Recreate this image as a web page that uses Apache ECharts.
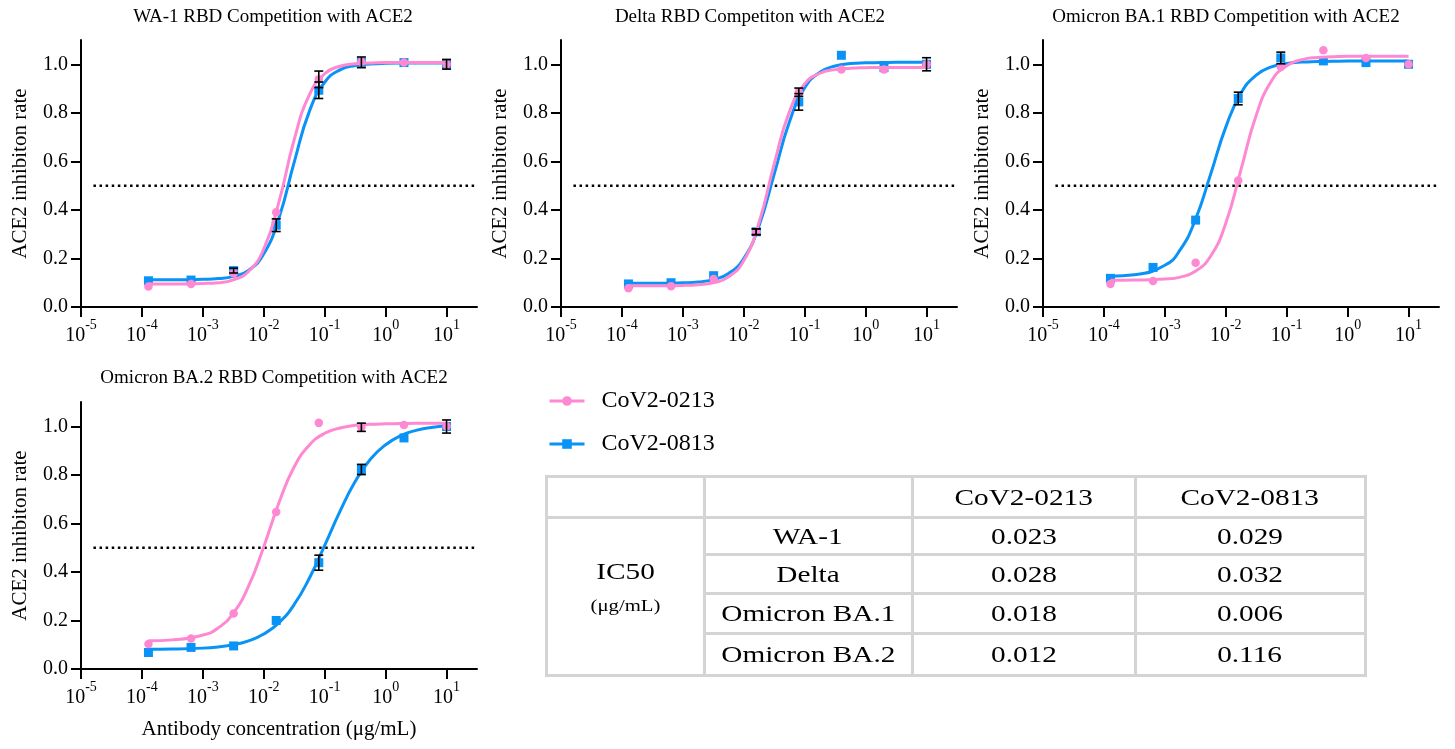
<!DOCTYPE html>
<html><head><meta charset="utf-8">
<script src="https://cdn.jsdelivr.net/npm/echarts@6/dist/echarts.min.js"></script>
<style>
html,body{margin:0;padding:0;background:#fff;}
#chart{position:absolute;left:0;top:0;width:1455px;height:749px;}
#ic50{position:absolute;left:544.5px;top:474.5px;border-collapse:collapse;table-layout:fixed;width:822px;font-family:'Liberation Serif','Times New Roman',serif;color:#000;}
#ic50 td{border:3px solid #d4d4d4;text-align:center;vertical-align:middle;padding:0;font-size:24px;line-height:24px;overflow:visible;white-space:nowrap;}
.sx{display:inline-block;transform:scaleX(1.22);transform-origin:center;}
.big{display:block;line-height:24px;margin-top:-18px;}
.small{display:block;font-size:17px;line-height:20px;margin-top:13px;}
</style></head>
<body><div id="chart"></div><table id="ic50"></table>
<script>
// ---------- data ----------
const titles = ['WA-1 RBD Competition with ACE2', 'Delta RBD Competiton with ACE2', 'Omicron BA.1 RBD Competition with ACE2', 'Omicron BA.2 RBD Competition with ACE2'];
const seriesNames = ['CoV2-0213', 'CoV2-0813'];
const yAxisName = 'ACE2 inhibiton rate';
const xAxisName = 'Antibody concentration (μg/mL)';
const xTicks = [1e-5, 1e-4, 1e-3, 1e-2, 1e-1, 1, 10];
const yTicks = [0, 0.2, 0.4, 0.6, 0.8, 1.0];

// measured concentrations (μg/mL)
const conc = [0.000128, 0.00064, 0.0032, 0.016, 0.08, 0.4, 2, 10];

const wa1_0213 = [0.084, 0.095, 0.139, 0.390, 0.938, 1.010, 1.007, 1.000];
const wa1_0213_err = [0, 0, 0, 0, 0.034, 0, 0, 0];
const wa1_0813 = [0.108, 0.111, 0.150, 0.337, 0.893, 1.008, 1.007, 1.000];
const wa1_0813_err = [0, 0, 0.010, 0.026, 0.034, 0.022, 0, 0.020];

const delta_0213 = [0.077, 0.086, 0.115, 0.310, 0.885, 0.978, 0.978, 1.000];
const delta_0213_err = [0, 0, 0, 0.012, 0.017, 0, 0, 0];
const delta_0813 = [0.095, 0.100, 0.129, 0.310, 0.845, 1.037, 0.986, 1.000];
const delta_0813_err = [0, 0, 0, 0.012, 0.034, 0, 0, 0.027];

const ba1_0213 = [0.095, 0.107, 0.182, 0.521, 0.989, 1.058, 1.026, 1.000];
const ba1_0213_err = [0, 0, 0, 0, 0, 0, 0, 0];
const ba1_0813 = [0.118, 0.163, 0.358, 0.859, 1.026, 1.014, 1.007, 1.000];
const ba1_0813_err = [0, 0, 0, 0.026, 0.024, 0, 0, 0];

const ba2_0213 = [0.103, 0.126, 0.229, 0.647, 1.014, 0.996, 1.005, 1.000];
const ba2_0213_err = [0, 0, 0, 0, 0, 0.017, 0, 0];
const ba2_0813 = [0.068, 0.089, 0.095, 0.200, 0.438, 0.822, 0.952, 0.999];
const ba2_0813_err = [0, 0, 0, 0, 0.031, 0.021, 0, 0.027];

// fitted curves at these concentrations
const curveConc = [0.000128, 0.000316, 0.001, 0.00178, 0.00316, 0.00562, 0.01, 0.0178, 0.0316, 0.0562, 0.1, 0.178, 0.316, 0.562, 1, 1.78, 3.16, 5.62, 10];
const wa1_0213_fit = [0.095, 0.095, 0.097, 0.100, 0.112, 0.146, 0.239, 0.434, 0.690, 0.875, 0.961, 0.992, 1.002, 1.005, 1.007, 1.007, 1.007, 1.007, 1.007];
const wa1_0813_fit = [0.112, 0.112, 0.114, 0.117, 0.126, 0.151, 0.219, 0.368, 0.597, 0.807, 0.926, 0.977, 0.995, 1.001, 1.004, 1.005, 1.005, 1.005, 1.005];
const delta_0213_fit = [0.088, 0.088, 0.089, 0.092, 0.100, 0.124, 0.191, 0.348, 0.590, 0.805, 0.919, 0.963, 0.978, 0.984, 0.986, 0.987, 0.987, 0.987, 0.987];
const delta_0813_fit = [0.098, 0.098, 0.100, 0.103, 0.113, 0.138, 0.200, 0.335, 0.548, 0.763, 0.903, 0.967, 0.993, 1.003, 1.006, 1.007, 1.008, 1.008, 1.008];
const ba1_0213_fit = [0.110, 0.111, 0.115, 0.123, 0.147, 0.209, 0.345, 0.567, 0.790, 0.931, 0.994, 1.019, 1.028, 1.031, 1.033, 1.033, 1.033, 1.033, 1.033];
const ba1_0813_fit = [0.127, 0.133, 0.172, 0.235, 0.359, 0.546, 0.741, 0.882, 0.955, 0.989, 1.003, 1.009, 1.011, 1.012, 1.013, 1.013, 1.013, 1.013, 1.013];
const ba2_0213_fit = [0.116, 0.120, 0.140, 0.169, 0.230, 0.341, 0.504, 0.686, 0.833, 0.923, 0.971, 0.993, 1.004, 1.008, 1.010, 1.011, 1.012, 1.012, 1.012];
const ba2_0813_fit = [0.081, 0.082, 0.086, 0.091, 0.100, 0.116, 0.144, 0.191, 0.266, 0.375, 0.509, 0.649, 0.772, 0.864, 0.924, 0.962, 0.983, 0.995, 1.002];

// 50% reference line
const refX = [1.6e-5, 31.6];
const refY = [0.5, 0.5];

// IC50 table
const tableVariants = ['WA-1', 'Delta', 'Omicron BA.1', 'Omicron BA.2'];
const ic50_0213 = ['0.023', '0.028', '0.018', '0.012'];
const ic50_0813 = ['0.029', '0.032', '0.006', '0.116'];

// ---------- styling / layout ----------
const FONT = "'Liberation Serif','Times New Roman',serif";
const PINK = '#FF88D2';
const BLUE = '#0A93F7';
const gridLeft = [81, 561, 1043, 81];
const gridTop = [40, 40, 40, 402];
const gridW = 396, gridH = 267;
const titleCX = [273, 750, 1226, 274];
const titleTop = [3, 3, 3, 364];

const panels = [
  { p: wa1_0213, pe: wa1_0213_err, pf: wa1_0213_fit, b: wa1_0813, be: wa1_0813_err, bf: wa1_0813_fit },
  { p: delta_0213, pe: delta_0213_err, pf: delta_0213_fit, b: delta_0813, be: delta_0813_err, bf: delta_0813_fit },
  { p: ba1_0213, pe: ba1_0213_err, pf: ba1_0213_fit, b: ba1_0813, be: ba1_0813_err, bf: ba1_0813_fit },
  { p: ba2_0213, pe: ba2_0213_err, pf: ba2_0213_fit, b: ba2_0813, be: ba2_0813_err, bf: ba2_0813_fit }
];

const grids = [], xAxes = [], yAxes = [], series = [];

// legend-only series
series.push({ type: 'line', name: seriesNames[0], xAxisIndex: 0, yAxisIndex: 0, data: [], symbol: 'circle', symbolSize: 10,
  itemStyle: { color: PINK }, lineStyle: { color: PINK, width: 3 } });
series.push({ type: 'line', name: seriesNames[1], xAxisIndex: 0, yAxisIndex: 0, data: [], symbol: 'rect', symbolSize: 10,
  itemStyle: { color: BLUE }, lineStyle: { color: BLUE, width: 3 } });

function errRender(params, api) {
  const x = api.value(0), y = api.value(1), e = api.value(2);
  const t = api.coord([x, y + e]);
  const b = api.coord([x, y - e]);
  const hw = 4.5;
  const st = { stroke: '#000', lineWidth: 1.6 };
  return { type: 'group', children: [
    { type: 'line', shape: { x1: t[0], y1: t[1], x2: b[0], y2: b[1] }, style: st },
    { type: 'line', shape: { x1: t[0] - hw, y1: t[1], x2: t[0] + hw, y2: t[1] }, style: st },
    { type: 'line', shape: { x1: b[0] - hw, y1: b[1], x2: b[0] + hw, y2: b[1] }, style: st }
  ] };
}

panels.forEach((pn, i) => {
  grids.push({ left: gridLeft[i], top: gridTop[i], width: gridW, height: gridH, containLabel: false });
  xAxes.push({
    type: 'log', logBase: 10, gridIndex: i, min: 1e-5, max: 31.6,
    name: i === 3 ? xAxisName : '', nameLocation: 'middle', nameGap: 50,
    nameTextStyle: { fontFamily: FONT, fontSize: 21, color: '#000' },
    axisLine: { show: true, onZero: false, lineStyle: { color: '#000', width: 2 } },
    axisTick: { show: true, length: 10, lineStyle: { color: '#000', width: 2 }, customValues: xTicks },
    minorTick: { show: false }, splitLine: { show: false },
    axisLabel: {
      customValues: xTicks, margin: 11, color: '#000',
      formatter: v => '{b|10}{s|' + Math.round(Math.log10(v)) + '}',
      rich: {
        b: { fontFamily: FONT, fontSize: 20, lineHeight: 28, color: '#000', verticalAlign: 'bottom' },
        s: { fontFamily: FONT, fontSize: 14, lineHeight: 14, color: '#000', verticalAlign: 'top' }
      }
    }
  });
  yAxes.push({
    type: 'value', gridIndex: i, min: 0, max: 1.1,
    name: yAxisName, nameLocation: 'middle', nameGap: 50,
    nameTextStyle: { fontFamily: FONT, fontSize: 21, color: '#000' },
    axisLine: { show: true, onZero: false, lineStyle: { color: '#000', width: 2 } },
    axisTick: { show: true, length: 10, lineStyle: { color: '#000', width: 2 }, customValues: yTicks },
    splitLine: { show: false },
    axisLabel: { customValues: yTicks, margin: 13, color: '#000', fontFamily: FONT, fontSize: 20,
      formatter: v => v.toFixed(1) }
  });

  // reference 50% line
  series.push({ type: 'line', name: 'ref' + i, xAxisIndex: i, yAxisIndex: i, z: 1, silent: true,
    data: refX.map((x, j) => [x, refY[j]]), symbol: 'none',
    lineStyle: { color: '#000', width: 2.5, type: [2.5, 3.6], cap: 'butt' } });
  // blue fit + points
  series.push({ type: 'line', name: 'fit0813_' + i, xAxisIndex: i, yAxisIndex: i, z: 2, silent: true,
    data: curveConc.map((x, j) => [x, pn.bf[j]]), smooth: 0.5, showSymbol: false, symbol: 'none',
    lineStyle: { color: BLUE, width: 3 } });
  series.push({ type: 'scatter', name: 'pts0813_' + i, xAxisIndex: i, yAxisIndex: i, z: 3, silent: true,
    data: conc.map((x, j) => [x, pn.b[j]]), symbol: 'rect', symbolSize: 9, itemStyle: { color: BLUE, opacity: 1 } });
  // pink fit + points
  series.push({ type: 'line', name: 'fit0213_' + i, xAxisIndex: i, yAxisIndex: i, z: 4, silent: true,
    data: curveConc.map((x, j) => [x, pn.pf[j]]), smooth: 0.5, showSymbol: false, symbol: 'none',
    lineStyle: { color: PINK, width: 3 } });
  series.push({ type: 'scatter', name: 'pts0213_' + i, xAxisIndex: i, yAxisIndex: i, z: 5, silent: true,
    data: conc.map((x, j) => [x, pn.p[j]]), symbol: 'circle', symbolSize: 8.5, itemStyle: { color: PINK, opacity: 1 } });
  // error bars
  const errData = [];
  conc.forEach((x, j) => { if (pn.be[j] > 0) errData.push([x, pn.b[j], pn.be[j]]); });
  conc.forEach((x, j) => { if (pn.pe[j] > 0) errData.push([x, pn.p[j], pn.pe[j]]); });
  series.push({ type: 'custom', name: 'err' + i, xAxisIndex: i, yAxisIndex: i, z: 6, silent: true,
    renderItem: errRender, data: errData, encode: { x: 0, y: 1 } });
});

const option = {
  animation: false,
  backgroundColor: '#fff',
  title: titles.map((t, i) => ({ text: t, left: titleCX[i] - 5, top: titleTop[i], textAlign: 'center',
    textStyle: { fontFamily: FONT, fontSize: 19, fontWeight: 'normal', color: '#000' } })),
  legend: {
    data: seriesNames.map(n => ({ name: n })), orient: 'vertical', left: 543, top: 384,
    itemWidth: 35, itemHeight: 12, itemGap: 19, selectedMode: false,
    lineStyle: { width: 3 },
    textStyle: { fontFamily: FONT, fontSize: 24, color: '#000', padding: [0, 0, 0, 12] }
  },
  grid: grids, xAxis: xAxes, yAxis: yAxes, series: series
};

const chart = echarts.init(document.getElementById('chart'), null, { renderer: 'canvas' });
chart.setOption(option);

// IC50 table
const tbl = document.getElementById('ic50');
const colW = [158, 208, 223, 230];
const rowH = [41, 37, 39, 40, 42];
let html = '<colgroup>' + colW.map(w => '<col style="width:' + w + 'px">').join('') + '</colgroup>';
html += '<tr style="height:' + rowH[0] + 'px"><td></td><td></td><td><span class="sx">' + seriesNames[0] + '</span></td><td><span class="sx">' + seriesNames[1] + '</span></td></tr>';
tableVariants.forEach((v, j) => {
  html += '<tr style="height:' + rowH[j + 1] + 'px">';
  if (j === 0) html += '<td rowspan="4"><span class="sx big">IC50</span><span class="sx small">(μg/mL)</span></td>';
  html += '<td><span class="sx">' + v + '</span></td><td><span class="sx">' + ic50_0213[j] + '</span></td><td><span class="sx">' + ic50_0813[j] + '</span></td></tr>';
});
tbl.innerHTML = html;
</script>
</body></html>
